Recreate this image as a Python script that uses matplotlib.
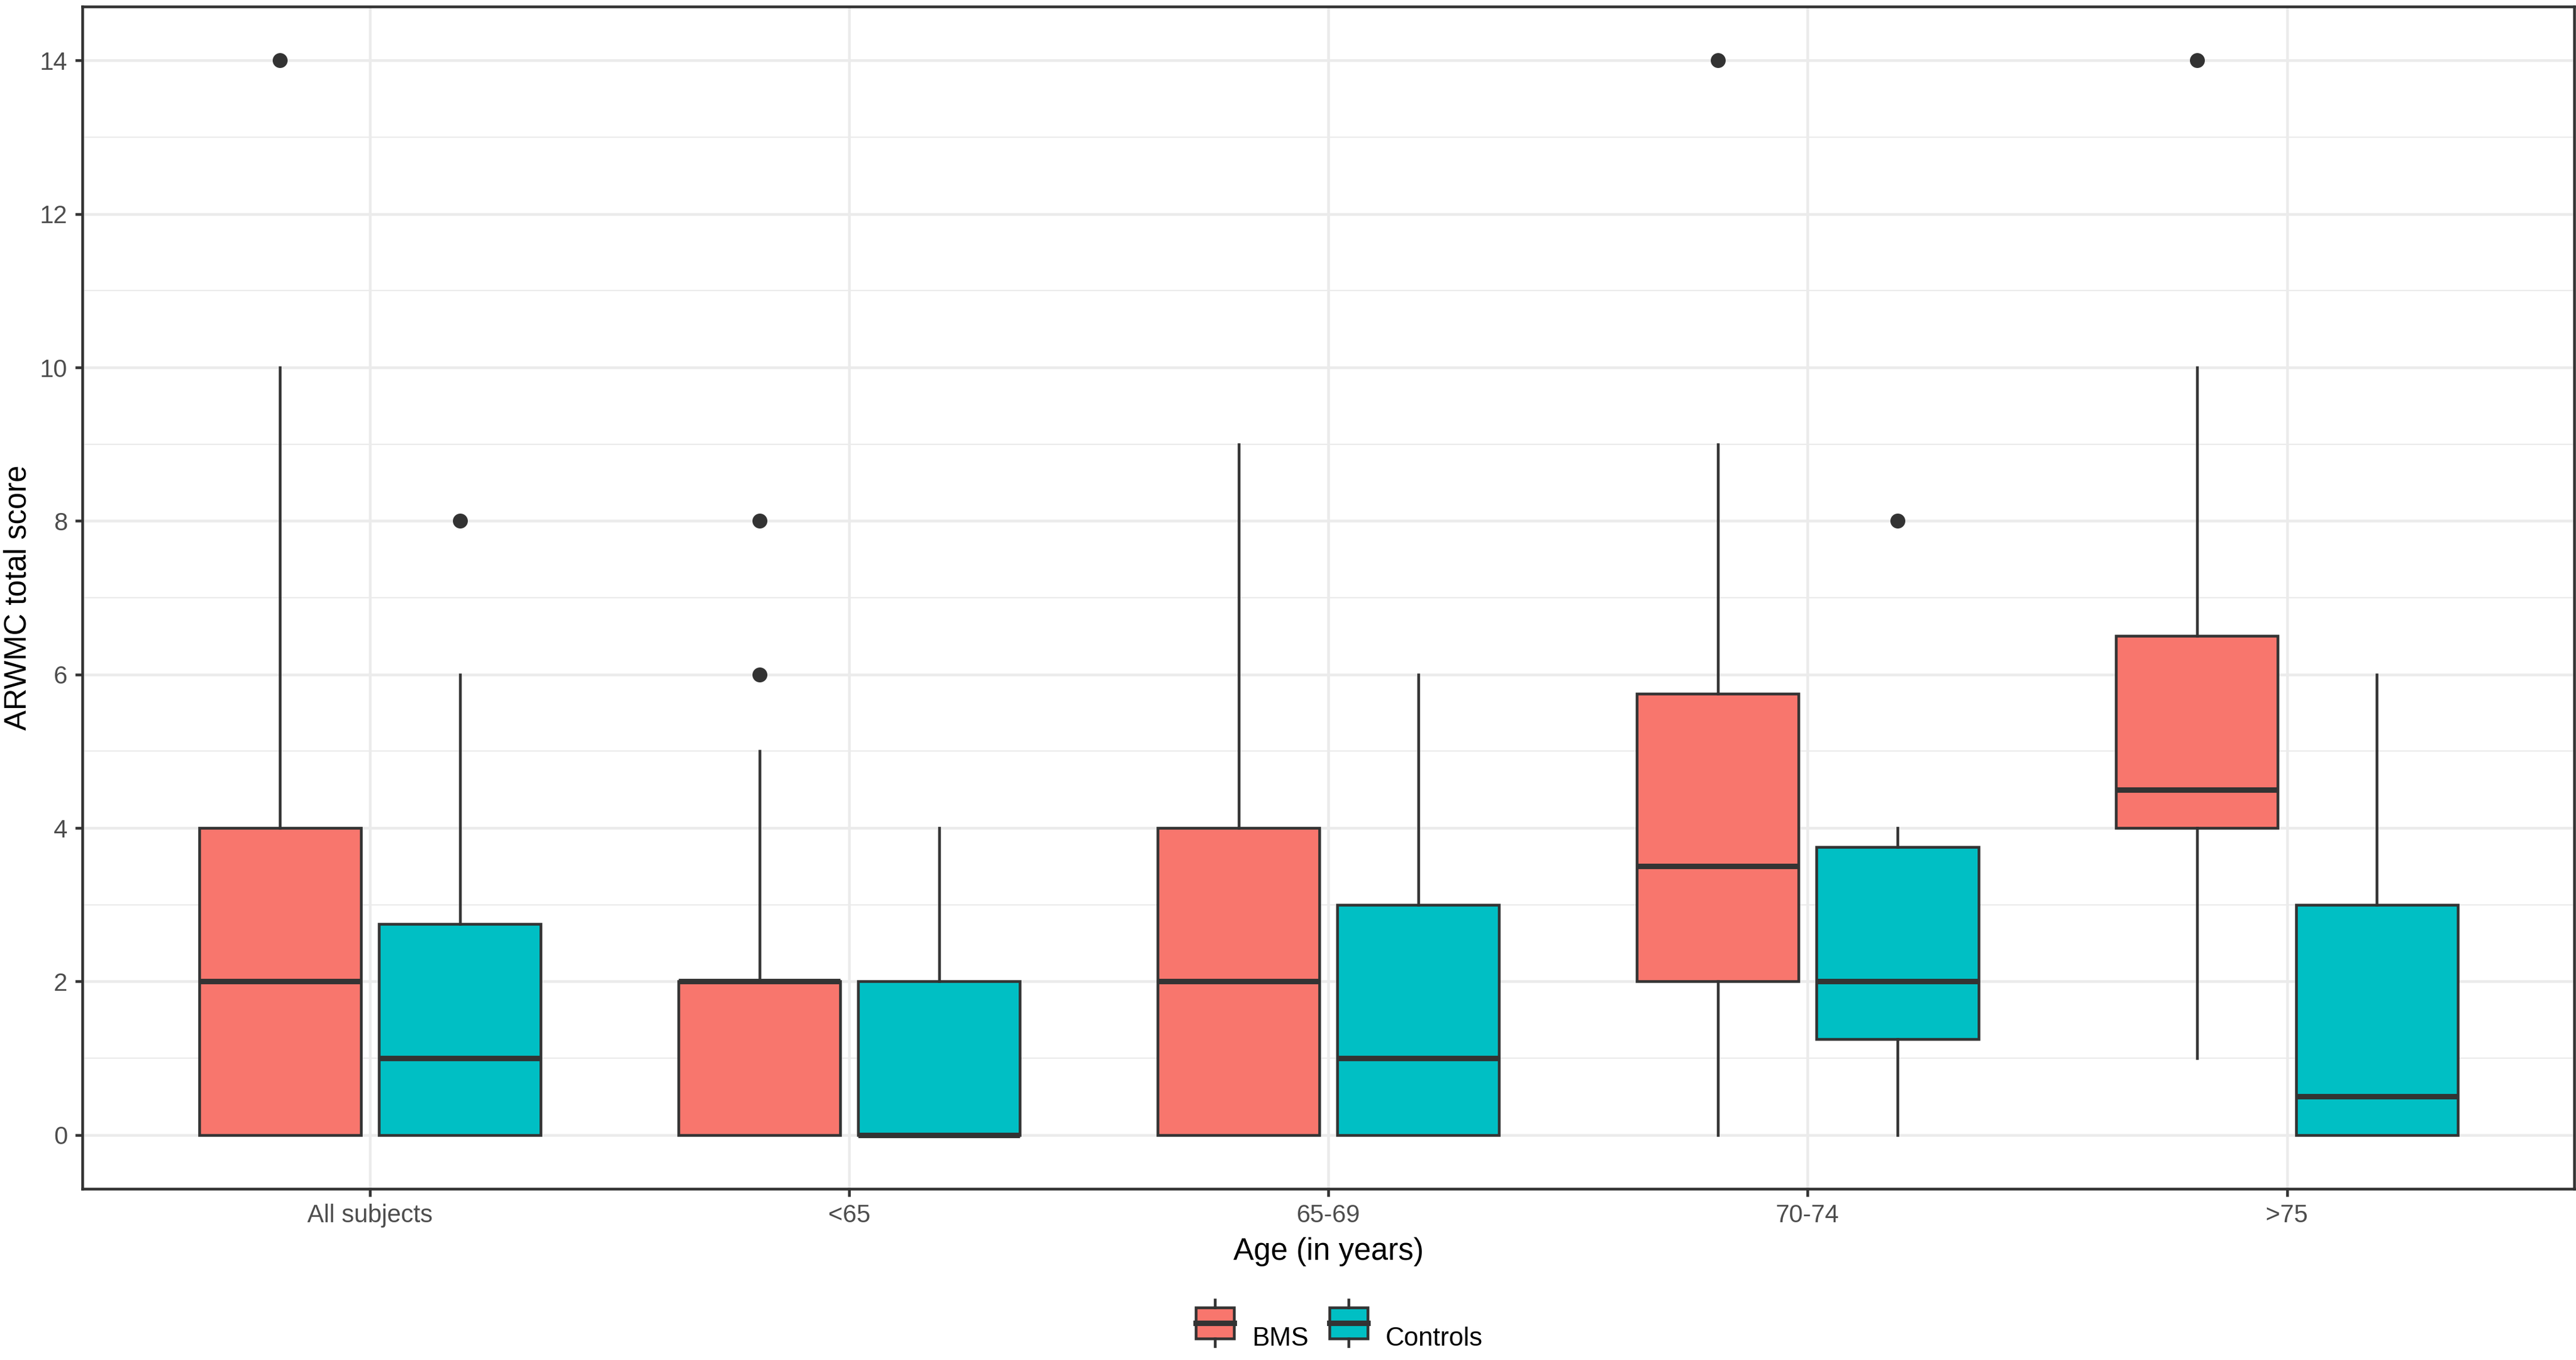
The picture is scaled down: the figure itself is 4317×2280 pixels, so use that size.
import matplotlib
matplotlib.use('Agg')
import matplotlib.pyplot as plt
import numpy as np
from matplotlib.legend_handler import HandlerBase
from matplotlib.patches import Rectangle
from matplotlib.lines import Line2D

# ARWMC total score by age group, BMS vs controls
groups = ['All subjects', '<65', '65-69', '70-74', '>75']

bms_low = [0, 0, 0, 0, 1]
bms_q1 = [0, 0, 0, 2, 4]
bms_med = [2, 2, 2, 3.5, 4.5]
bms_q3 = [4, 2, 4, 5.75, 6.5]
bms_high = [10, 5, 9, 9, 10]
bms_out = [[14], [6, 8], [], [14], [14]]

ctl_low = [0, 0, 0, 0, 0]
ctl_q1 = [0, 0, 0, 1.25, 0]
ctl_med = [1, 0, 1, 2, 0.5]
ctl_q3 = [2.75, 2, 3, 3.75, 3]
ctl_high = [6, 4, 6, 4, 6]
ctl_out = [[8], [], [], [8], []]

series = ['BMS', 'Controls']
colors = ['#F8766D', '#00BFC4']
line_col = '#333333'


def make_stats(lo, q1, med, q3, hi, out):
    return [dict(whislo=lo[i], q1=q1[i], med=med[i], q3=q3[i], whishi=hi[i],
                 fliers=out[i]) for i in range(len(lo))]


stats = [make_stats(bms_low, bms_q1, bms_med, bms_q3, bms_high, bms_out),
         make_stats(ctl_low, ctl_q1, ctl_med, ctl_q3, ctl_high, ctl_out)]

plt.rcParams['font.family'] = ['Liberation Sans', 'DejaVu Sans']

fig = plt.figure(figsize=(4317 / 300, 2280 / 300), dpi=300)
ax = fig.add_axes([0.032, 0.126, 0.9674, 0.869])

x = np.arange(1, len(groups) + 1)
offsets = [-0.1875, 0.1875]
for k in range(2):
    ax.bxp(stats[k], positions=x + offsets[k], widths=0.3375, patch_artist=True,
           showcaps=False,
           boxprops=dict(facecolor=colors[k], edgecolor=line_col, linewidth=1.1),
           whiskerprops=dict(color=line_col, linewidth=1.1),
           medianprops=dict(color=line_col, linewidth=2.2, solid_capstyle='butt'),
           flierprops=dict(marker='o', markerfacecolor=line_col,
                           markeredgecolor=line_col, markersize=5),
           zorder=3)

ax.set_xlim(0.4, 5.6)
ax.set_ylim(-0.7, 14.7)
ax.set_xticks(x)
ax.set_xticklabels(groups)
ax.set_yticks(range(0, 15, 2))
ax.set_yticks(range(1, 15, 2), minor=True)

ax.grid(True, which='major', color='#EBEBEB', linewidth=1.1, zorder=0)
ax.grid(True, which='minor', axis='y', color='#EBEBEB', linewidth=0.55, zorder=0)
ax.set_axisbelow(True)
for s in ax.spines.values():
    s.set_color(line_col)
    s.set_linewidth(1.1)

ax.tick_params(which='major', length=3, width=1.1, color=line_col,
               labelsize=10, labelcolor='#4D4D4D', pad=3)
ax.tick_params(which='minor', length=0)
ax.set_xlabel('Age (in years)', fontsize=12.3, labelpad=4)
ax.set_ylabel('ARWMC total score', fontsize=12.2, labelpad=3)


class BoxKey(HandlerBase):
    def create_artists(self, legend, orig, xd, yd, w, h, fs, trans):
        cx = xd + w / 2
        rect = Rectangle((xd, yd), w, h, facecolor=orig.get_facecolor(),
                         edgecolor=line_col, linewidth=1.1, transform=trans)
        med = Line2D([xd, xd + w], [yd + h / 2] * 2, color=line_col,
                     linewidth=2.2, transform=trans)
        top = Line2D([cx, cx], [yd + h, yd + h * 1.25], color=line_col,
                     linewidth=1.1, transform=trans)
        bot = Line2D([cx, cx], [yd, yd - h * 0.25], color=line_col,
                     linewidth=1.1, transform=trans)
        return [rect, med, top, bot]


handles = [Rectangle((0, 0), 1, 1, facecolor=c) for c in colors]
fig.legend(handles, series, handler_map={Rectangle: BoxKey()},
           loc='center', bbox_to_anchor=(0.52, 0.017), ncol=2, frameon=False,
           fontsize=10.5, handlelength=1.45, handleheight=1.45,
           columnspacing=0.8, handletextpad=0.7)

fig.savefig('out.png', dpi=300)
